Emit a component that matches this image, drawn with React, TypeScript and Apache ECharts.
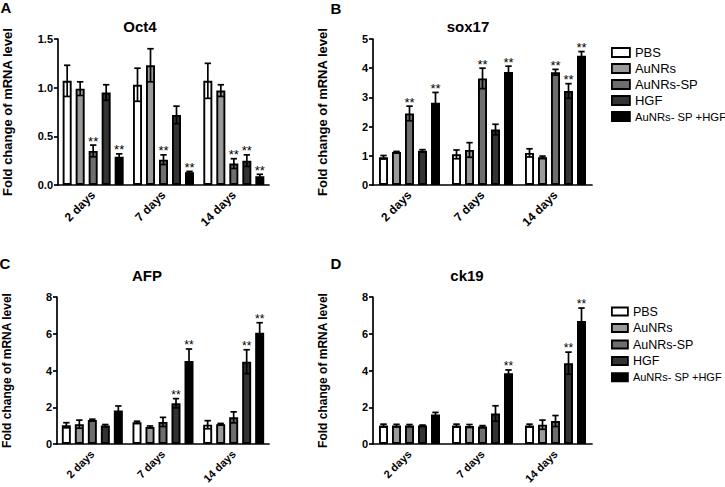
import React, { useEffect, useRef } from "react";
import * as echarts from "echarts";

const categories = ["2 days", "7 days", "14 days"];
const groups = ["PBS", "AuNRs", "AuNRs-SP", "HGF", "AuNRs- SP +HGF"];
const fills = ["#ffffff", "#9a9a9a", "#6e6e6e", "#333333", "#000000"];

// Oct4
const oct4Mean = [
  [1.07, 1.03, 1.07],
  [0.99, 1.23, 0.97],
  [0.35, 0.26, 0.22],
  [0.95, 0.72, 0.25],
  [0.29, 0.13, 0.09],
];
const oct4Err = [
  [0.16, 0.17, 0.18],
  [0.07, 0.17, 0.06],
  [0.06, 0.05, 0.05],
  [0.08, 0.09, 0.06],
  [0.03, 0.01, 0.02],
];
const oct4Sig = [
  [0, 0, 0],
  [0, 0, 0],
  [1, 1, 1],
  [0, 0, 1],
  [1, 1, 1],
];

// sox17
const sox17Mean = [
  [0.95, 1.05, 1.1],
  [1.13, 1.2, 0.95],
  [2.45, 3.65, 3.86],
  [1.17, 1.9, 3.22],
  [2.82, 3.87, 4.43],
];
const sox17Err = [
  [0.06, 0.15, 0.14],
  [0.02, 0.25, 0.04],
  [0.25, 0.35, 0.1],
  [0.04, 0.18, 0.25],
  [0.35, 0.2, 0.14],
];
const sox17Sig = [
  [0, 0, 0],
  [0, 0, 0],
  [1, 1, 1],
  [0, 0, 1],
  [1, 1, 1],
];

// AFP
const afpMean = [
  [1.02, 1.18, 1.05],
  [1.08, 0.93, 1.08],
  [1.3, 1.2, 1.45],
  [1.0, 2.22, 4.48],
  [1.82, 4.52, 6.05],
];
const afpErr = [
  [0.14, 0.06, 0.22],
  [0.22, 0.05, 0.04],
  [0.05, 0.25, 0.3],
  [0.06, 0.25, 0.65],
  [0.25, 0.65, 0.55],
];
const afpSig = [
  [0, 0, 0],
  [0, 0, 0],
  [0, 0, 0],
  [0, 1, 1],
  [0, 1, 1],
];

// ck19
const ck19Mean = [
  [1.0, 1.0, 1.0],
  [1.0, 0.98, 1.05],
  [1.0, 0.95, 1.25],
  [1.0, 1.66, 4.4],
  [1.6, 3.85, 6.7],
];
const ck19Err = [
  [0.08, 0.08, 0.08],
  [0.07, 0.08, 0.25],
  [0.06, 0.05, 0.3],
  [0.03, 0.42, 0.6],
  [0.12, 0.18, 0.7],
];
const ck19Sig = [
  [0, 0, 0],
  [0, 0, 0],
  [0, 0, 0],
  [0, 0, 1],
  [0, 1, 1],
];

const titles = ["Oct4", "sox17", "AFP", "ck19"];
const letters = ["A", "B", "C", "D"];
const yMax = [1.5, 5, 8, 8];
const yInterval = [0.5, 1, 2, 2];
const yDecimals = [1, 0, 0, 0];
const yName = "Fold change of mRNA level";

const FONT = '"Liberation Sans", Arial, Helvetica, sans-serif';

export default function App() {
  const ref = useRef<HTMLDivElement>(null);
  useEffect(() => {
    if (!ref.current) return;
    const chart = echarts.init(ref.current, null, { renderer: "svg" });

    const panels = [
      { mean: oct4Mean, err: oct4Err, sig: oct4Sig },
      { mean: sox17Mean, err: sox17Err, sig: sox17Sig },
      { mean: afpMean, err: afpErr, sig: afpSig },
      { mean: ck19Mean, err: ck19Err, sig: ck19Sig },
    ];
    const gridPos = [
      { left: 51, top: 39, width: 218, height: 146 },
      { left: 373, top: 39, width: 219, height: 146 },
      { left: 51, top: 297, width: 218, height: 147 },
      { left: 373, top: 297, width: 219, height: 147 },
    ];
    const big = [true, true, false, false];
    const titlePos = [
      [140, 26],
      [468, 26],
      [147, 275],
      [467, 275],
    ];
    const letterPos = [
      [6, 7],
      [336, 8],
      [5, 263],
      [336, 263],
    ];

    const barW = 9;
    const step = 13;

    const series: any[] = [];
    panels.forEach((p, k) => {
      groups.forEach((g, gi) => {
        series.push({
          type: "bar",
          name: g,
          xAxisIndex: k,
          yAxisIndex: k,
          data: p.mean[gi],
          barWidth: barW,
          barGap: ((step - barW) / barW) * 100 + "%",
          itemStyle: { color: fills[gi], borderColor: "#000", borderWidth: 1.9 },
          z: 2,
        });
      });
      groups.forEach((g, gi) => {
        const off = (gi - 2) * step;
        series.push({
          type: "custom",
          name: "err-" + k + "-" + gi,
          xAxisIndex: k,
          yAxisIndex: k,
          z: 4,
          data: p.mean[gi].map((m, i) => [i, m, p.err[gi][i], p.sig[gi][i]]),
          renderItem: (params: any, api: any) => {
            const c = api.value(0);
            const m = api.value(1);
            const e = api.value(2);
            const s = api.value(3);
            const top = api.coord([c, m + e]);
            const bot = api.coord([c, Math.max(0, m - e)]);
            const cx = top[0] + off;
            const ls = { stroke: "#000", lineWidth: 1.7 };
            const hw = 3.2;
            const children: any[] = [
              { type: "line", shape: { x1: cx, y1: top[1], x2: cx, y2: bot[1] }, style: ls },
              { type: "line", shape: { x1: cx - hw, y1: top[1], x2: cx + hw, y2: top[1] }, style: ls },
              { type: "line", shape: { x1: cx - hw, y1: bot[1], x2: cx + hw, y2: bot[1] }, style: ls },
            ];
            if (s) {
              children.push({
                type: "text",
                x: cx,
                y: top[1] - 4,
                style: {
                  text: "**",
                  fill: "#000",
                  font: (big[k] ? 13 : 12) + "px " + FONT,
                  textAlign: "center",
                  textVerticalAlign: "middle",
                },
              });
            }
            return { type: "group", children };
          },
        });
      });
    });

    const graphics: any[] = [];
    titles.forEach((t, k) => {
      graphics.push({
        type: "text",
        x: titlePos[k][0],
        y: titlePos[k][1],
        style: {
          text: t,
          fill: "#000",
          font: "bold 15px " + FONT,
          textAlign: "center",
          textVerticalAlign: "middle",
        },
      });
      graphics.push({
        type: "text",
        x: letterPos[k][0],
        y: letterPos[k][1],
        style: {
          text: letters[k],
          fill: "#000",
          font: "bold 15px " + FONT,
          textAlign: "center",
          textVerticalAlign: "middle",
        },
      });
    });

    const longName = groups[4];
    const mkLegend = (top: number, iw: number, ih: number, gap: number, fs: number, fsLong: number) => ({
      data: groups,
      orient: "vertical",
      left: 606,
      top,
      itemWidth: iw,
      itemHeight: ih,
      itemGap: gap,
      icon: "rect",
      itemStyle: { borderColor: "#000", borderWidth: 1.8 },
      formatter: (n: string) => (n === longName ? "{s|" + n + "}" : n),
      textStyle: {
        fontSize: fs,
        lineHeight: fs,
        color: "#000",
        fontFamily: FONT,
        rich: { s: { fontSize: fsLong, lineHeight: fs, color: "#000", fontFamily: FONT } },
      },
      selectedMode: false,
    });

    const option: any = {
      animation: false,
      backgroundColor: "#fff",
      textStyle: { fontFamily: FONT },
      grid: gridPos.map((g) => ({ ...g, containLabel: false })),
      xAxis: gridPos.map((_, k) => ({
        type: "category",
        gridIndex: k,
        data: categories,
        axisLine: { lineStyle: { color: "#000", width: 1.7 } },
        axisTick: { alignWithLabel: true, length: 4, lineStyle: { color: "#000", width: 1.7 } },
        axisLabel: {
          rotate: 45,
          margin: 8,
          color: "#000",
          fontWeight: "bold",
          fontSize: big[k] ? 12 : 11,
          fontFamily: FONT,
        },
        splitLine: { show: false },
      })),
      yAxis: gridPos.map((_, k) => ({
        type: "value",
        gridIndex: k,
        min: 0,
        max: yMax[k],
        interval: yInterval[k],
        name: yName,
        nameLocation: "middle",
        nameRotate: 90,
        nameGap: 44,
        nameTextStyle: {
          color: "#000",
          fontWeight: "bold",
          fontSize: big[k] ? 13 : 12,
          fontFamily: FONT,
        },
        axisLine: { show: true, lineStyle: { color: "#000", width: 1.7 } },
        axisTick: { show: true, length: 4, lineStyle: { color: "#000", width: 1.7 } },
        axisLabel: {
          margin: 5,
          color: "#000",
          fontWeight: "bold",
          fontSize: 11,
          fontFamily: FONT,
          formatter: (v: number) => v.toFixed(yDecimals[k]),
        },
        splitLine: { show: false },
      })),
      legend: [mkLegend(41, 18, 9, 3, 13, 11.3), mkLegend(300, 16, 8, 3.5, 12.5, 11)],
      graphic: graphics,
      series,
    };
    chart.setOption(option);
    return () => chart.dispose();
  }, []);
  return (
    <div
      ref={ref}
      style={{ position: "fixed", left: 0, top: 0, width: 725, height: 487, background: "#fff" }}
    />
  );
}
